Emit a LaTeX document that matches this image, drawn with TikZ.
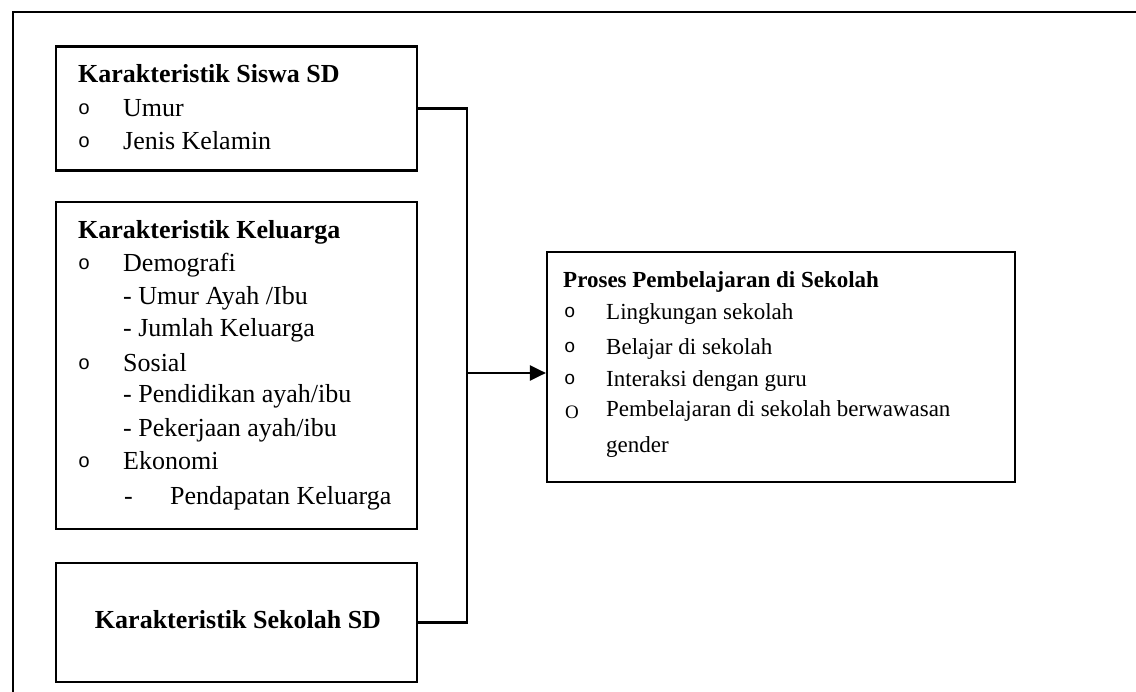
\documentclass[tikz,border=0pt]{standalone}
\usepackage{fontspec}
\setmainfont{Liberation Serif}
\setmonofont{Liberation Mono}
\usetikzlibrary{arrows.meta}
\tikzset{
  box/.style={draw, line width=2.2pt, inner sep=0pt, minimum width=361pt},
  rbox/.style={draw, line width=2.2pt, inner sep=0pt, minimum width=468pt, minimum height=230pt},
  txt/.style={anchor=base west, inner sep=0pt, font=\fontsize{26}{33}\selectfont},
  ttl/.style={txt, font=\fontsize{26}{33}\selectfont\bfseries},
  rtxt/.style={anchor=base west, inner sep=0pt, font=\fontsize{23}{30}\selectfont},
  rttl/.style={rtxt, font=\fontsize{23}{30}\selectfont\bfseries},
  bul/.style={anchor=base west, inner sep=0pt, font=\fontsize{20}{24}\selectfont\ttfamily},
  rbul/.style={anchor=base west, inner sep=0pt, font=\fontsize{19}{24}\selectfont\ttfamily},
  conn/.style={line width=2.2pt},
}
\begin{document}
\begin{tikzpicture}[x=1pt,y=-1pt]
\useasboundingbox (0,0) rectangle (1136,692);
% outer frame
\draw[line width=2pt] (13,692) -- (13,12) -- (1136,12);

% boxes
\node[box, minimum height=124pt] (siswa) at (236.5,108.5) {};
\node[box, minimum height=327pt] (kel) at (236.5,365.5) {};
\node[box, minimum height=119pt] (sek) at (236.5,622.5) {};
\node[rbox] (proses) at (781,367) {};

% box 1 text
\node[ttl] (t1) at (78,83) {Karakteristik Siswa SD};
\node[bul] (b11) at (78,115) {o};
\node[txt] (i11) at (123,117) {Umur};
\node[bul] (b12) at (78,148) {o};
\node[txt] (i12) at (123,150) {Jenis Kelamin};

% box 2 text
\node[ttl] (t2) at (78,239) {Karakteristik Keluarga};
\node[bul] (b21) at (78,270) {o};
\node[txt] (i21) at (123,272) {Demografi};
\node[txt] (s211) at (123,305) {- Umur Ayah /Ibu};
\node[txt] (s212) at (123,337) {- Jumlah Keluarga};
\node[bul] (b22) at (78,370) {o};
\node[txt] (i22) at (123,372) {Sosial};
\node[txt] (s221) at (123,403) {- Pendidikan ayah/ibu};
\node[txt] (s222) at (123,437) {- Pekerjaan ayah/ibu};
\node[bul] (b23) at (78,468) {o};
\node[txt] (i23) at (123,470) {Ekonomi};
\node[txt] (d231) at (124,504) {-};
\node[txt] (s231) at (170,504) {Pendapatan Keluarga};

% box 3 text
\node[ttl, anchor=base] (t3) at (238,628) {Karakteristik Sekolah SD};

% right box text
\node[rttl] (t4) at (563,288) {Proses Pembelajaran di Sekolah};
\node[rbul] (b41) at (564,318) {o};
\node[rtxt] (i41) at (606,320) {Lingkungan sekolah};
\node[rbul] (b42) at (564,353) {o};
\node[rtxt] (i42) at (606,355) {Belajar di sekolah};
\node[rbul] (b43) at (564,385) {o};
\node[rtxt] (i43) at (606,387) {Interaksi dengan guru};
\node[rbul, font=\fontsize{19}{22}\selectfont] (b44) at (565,419) {O};
\node[rtxt] (i44) at (606,417) {Pembelajaran di sekolah berwawasan};
\node[rtxt] (i45) at (606,453) {gender};

% connectors
\coordinate (jx) at (467,373);
\draw[conn] (siswa.east) -- (siswa.east -| jx) -- (sek.east -| jx) -- (sek.east);
\draw[conn, -{Triangle[length=16pt,width=15pt]}] (jx) -- (proses.west |- jx);
\end{tikzpicture}
\end{document}
